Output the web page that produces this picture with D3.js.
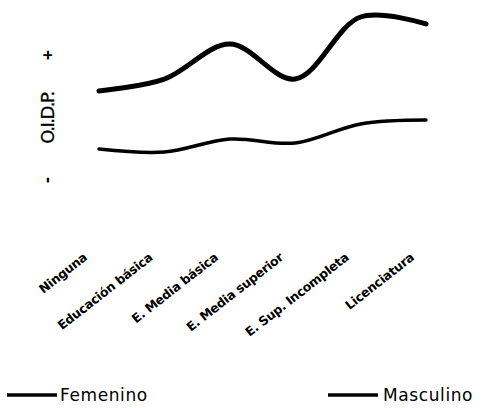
<!DOCTYPE html>
<html><head><meta charset="utf-8">
<script src="https://cdn.jsdelivr.net/npm/d3@7"></script>
<style>body{margin:0;background:#fff}svg{display:block}</style>
</head><body>
<svg id="c" width="487" height="408"></svg>
<script>
const categories = ["Ninguna","Educación básica","E. Media básica","E. Media superior","E. Sup. Incompleta","Licenciatura"];
const masculino = [4.65, 5.35, 7.41, 5.35, 9.0, 8.59];
const femenino  = [1.24, 1.06, 1.82, 1.59, 2.71, 2.94];
const seriesNames = ["Femenino","Masculino"];
const axisLabel = "O.I.D.P.";

const svg = d3.select("#c");
const x = d3.scalePoint().domain(categories).range([99, 426]);
const y = d3.scaleLinear().domain([0, 10]).range([170, 0]);
const line = d3.line().x((d,i)=>x(categories[i])).y(d=>y(d)).curve(d3.curveCatmullRom.alpha(0.5));

svg.append("path").attr("d", line(masculino)).attr("fill","none").attr("stroke","#000")
  .attr("stroke-width",5).attr("stroke-linecap","round");
svg.append("path").attr("d", line(femenino)).attr("fill","none").attr("stroke","#000")
  .attr("stroke-width",3.5).attr("stroke-linecap","round");

// y axis label
svg.append("text").attr("transform","translate(54,118) rotate(-90)").attr("text-anchor","middle")
  .attr("font-family","'DejaVu Sans', sans-serif").attr("font-size",18).attr("letter-spacing",-1.5)
  .attr("stroke","#000").attr("stroke-width",0.3).text(axisLabel);
svg.append("text").attr("transform","translate(54,55) rotate(-90)").attr("text-anchor","middle")
  .attr("font-family","'Open Sans', sans-serif").attr("font-size",18).attr("font-weight","bold").text("+");
svg.append("text").attr("transform","translate(53,180) rotate(-90)").attr("text-anchor","middle")
  .attr("font-family","'Open Sans', sans-serif").attr("font-size",18).attr("font-weight","bold").text("-");

// category labels
svg.append("g").selectAll("text").data(categories).join("text")
  .attr("transform", d=>`translate(${x(d)-11},${259}) rotate(-38)`)
  .attr("text-anchor","end").attr("font-family","'DejaVu Sans', sans-serif")
  .attr("font-weight","bold").attr("font-size",12.5).attr("letter-spacing",-0.3).text(d=>d);

// legend
const leg = [{name:seriesNames[0], x1:7, x2:57, tx:60},{name:seriesNames[1], x1:328, x2:378, tx:383}];
leg.forEach(l=>{
  svg.append("line").attr("x1",l.x1).attr("x2",l.x2).attr("y1",395).attr("y2",395)
    .attr("stroke","#000").attr("stroke-width",3.5);
  svg.append("text").attr("x",l.tx).attr("y",401).attr("font-family","'DejaVu Sans', sans-serif")
    .attr("font-size",17).attr("letter-spacing",0.6).text(l.name);
});
</script>
</body></html>
